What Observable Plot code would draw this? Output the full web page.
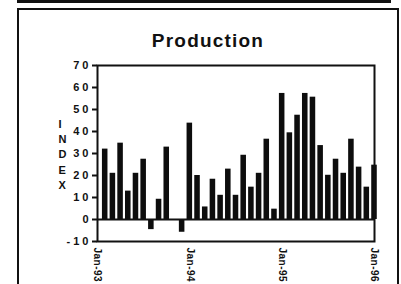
<!DOCTYPE html>
<html><head><meta charset="utf-8">
<script src="https://cdn.jsdelivr.net/npm/d3@7"></script>
<script src="https://cdn.jsdelivr.net/npm/@observablehq/plot@0.6"></script>
<style>
body{margin:0;width:401px;height:284px;overflow:hidden;background:#fff;position:relative;font-family:"Liberation Sans",Arial,sans-serif;}
#topline{position:absolute;left:17px;top:0;width:374px;height:3px;background:#111}
#box{position:absolute;left:17px;top:8px;width:382px;height:320px;border:2px solid #111;box-sizing:border-box}
#title{position:absolute;left:17px;width:382px;top:30px;text-align:center;font-size:19px;font-weight:bold;letter-spacing:1.2px;color:#111}
#chart{position:absolute;left:0;top:0}
#chart g[aria-label="y-axis tick label"] text{letter-spacing:3px}
#chart g[aria-label="x-axis tick label"] text{letter-spacing:0.5px}
</style>
</head><body>
<div id="topline"></div>
<div id="box"></div>
<div id="title">Production</div>
<div id="chart"></div>
<script>
const title = "Production";
const yLabel = "INDEX";
const months = [1,2,3,4,5,6,7,8,9,10,11,12,13,14,15,16,17,18,19,20,21,22,23,24,25,26,27,28,29,30,31,32,33,34,35,36];
const values = [32, 21, 34.7, 12.9, 21, 27.4, -4.6, 9.2, 32.9, null, -5.8, 43.8,
                20, 5.7, 18.3, 11, 22.9, 11, 29.2, 14.7, 21, 36.5, 4.7, 57.3,
                39.4, 47.4, 57.3, 55.6, 33.6, 20.1, 27.4, 21, 36.5, 23.8, 14.7, 24.7];
const xTicks = [0, 12, 24, 36];
const xTickLabels = ["Jan-93", "Jan-94", "Jan-95", "Jan-96"];
const yTicks = [-10, 0, 10, 20, 30, 40, 50, 60, 70];

const data = months.map((m, i) => ({m, v: values[i]})).filter(d => d.v != null);
const halfWidth = 0.36;

const chart = Plot.plot({
  width: 401, height: 284,
  marginLeft: 97, marginRight: 27, marginTop: 65, marginBottom: 43,
  style: {background: "transparent", fontFamily: "'Liberation Sans', Arial, sans-serif", color: "#111", overflow: "visible"},
  x: {domain: [0, 36]},
  y: {domain: [-10, 70]},
  marks: [
    Plot.rectY(data, {x1: d => d.m - halfWidth, x2: d => d.m + halfWidth, y1: 0, y2: "v", fill: "#0d0d0d"}),
    Plot.ruleY([0], {stroke: "#111", strokeWidth: 2}),
    Plot.frame({stroke: "#111", strokeWidth: 2}),
    Plot.axisY({ticks: yTicks, tickFormat: d => String(d), tickSize: 5, tickPadding: 1, fontSize: 11, fontWeight: 600, label: null, strokeWidth: 2}),
    Plot.axisX({ticks: xTicks, tickFormat: d => xTickLabels[xTicks.indexOf(d)], tickRotate: 90, tickSize: 0, tickPadding: 6, fontSize: 10, fontWeight: "bold", label: null}),
    Plot.text([yLabel.split("").join("\n")], {frameAnchor: "left", dx: -39, fontWeight: "bold", fontSize: 11, lineHeight: 1.4, fill: "#111"})
  ]
});
document.getElementById("chart").appendChild(chart);
</script>
</body></html>
